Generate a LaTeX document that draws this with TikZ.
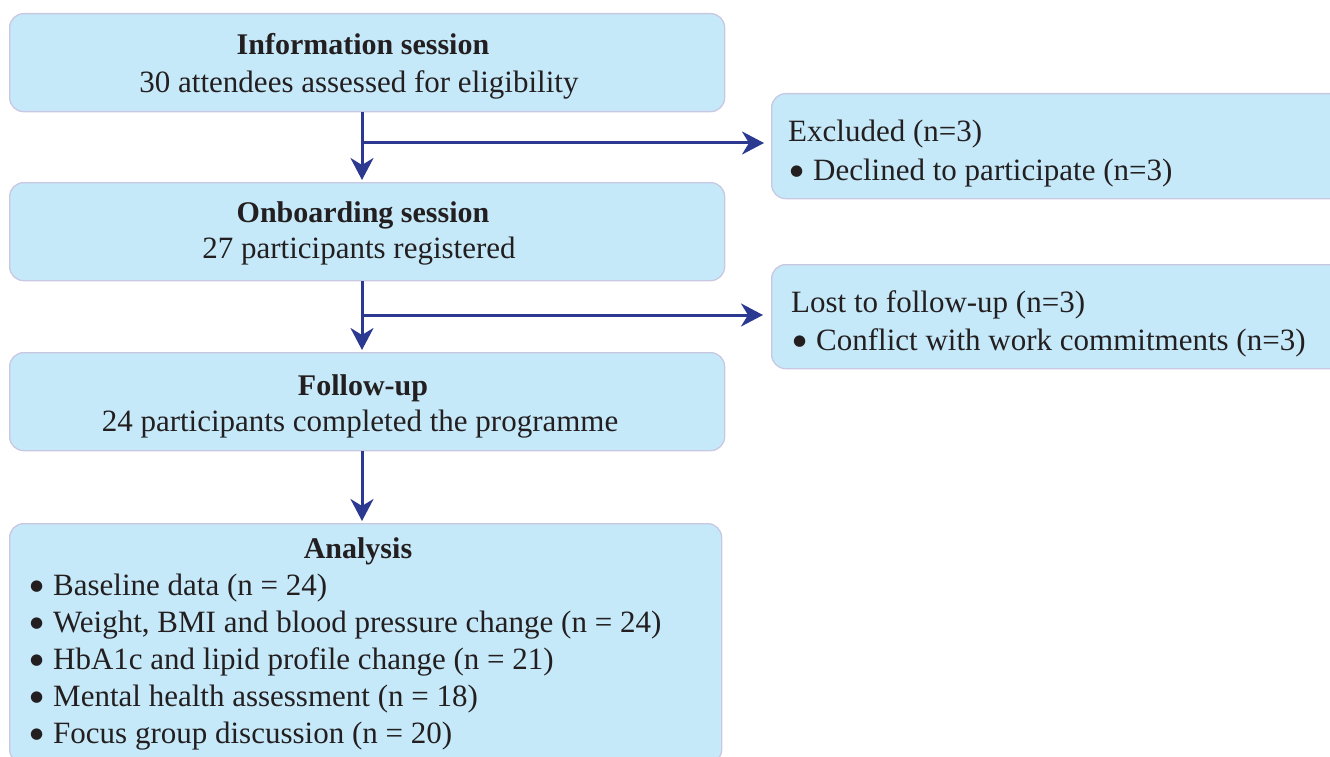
\documentclass[tikz,border=0pt]{standalone}
\usepackage{fontspec}
\setmainfont{Liberation Serif}
\newfontfamily\symfont{DejaVu Sans}
\usetikzlibrary{arrows.meta}
\definecolor{boxfill}{HTML}{C6E9F9}
\definecolor{boxline}{HTML}{C8C8E2}
\definecolor{arrowc}{HTML}{2B3990}
\definecolor{txt}{HTML}{231F20}
\tikzset{
  box/.style={draw=boxline, fill=boxfill, line width=1.3pt, rounded corners=14pt,
    anchor=north west, inner sep=0pt, shape=rectangle},
  flow/.style={draw=arrowc, line width=3pt,
    -{Stealth[length=22pt, width=23pt, inset=7pt]}},
  lbl/.style={text=txt, font=\fontsize{31}{37}\selectfont, inner sep=0pt, anchor=base},
  head/.style={lbl, font=\fontsize{30}{37}\selectfont\bfseries},
  lbll/.style={lbl, anchor=base west},
}
\newcommand{\bul}{\makebox[23pt][l]{\raisebox{5pt}{\fontsize{15}{15}\selectfont\symfont ●}}}
\begin{document}
\begin{tikzpicture}[x=1pt,y=-1pt]
\useasboundingbox (0,0) rectangle (1330,757);
\clip (0,0) rectangle (1330,757);

% main boxes
\node[box, minimum width=715pt, minimum height=98pt] (b1) at (9,13) {};
\node[box, minimum width=715pt, minimum height=98pt] (b2) at (9,182) {};
\node[box, minimum width=715pt, minimum height=98pt] (b3) at (9,352) {};
\node[box, minimum width=712pt, minimum height=240pt] (b4) at (9,523) {};
% side boxes
\node[box, minimum width=580pt, minimum height=105pt] (r1) at (771,93) {};
\node[box, minimum width=580pt, minimum height=104pt] (r2) at (771,264) {};

% texts
\node[head] (t1a) at (363,55) {Information session};
\node[lbl] (t1b) at (359,93) {30 attendees assessed for eligibility};
\node[head] (t2a) at (363,222) {Onboarding session};
\node[lbl] (t2b) at (359,258) {27 participants registered};
\node[head] (t3a) at (363,395) {Follow-up};
\node[lbl] (t3b) at (360,431) {24 participants completed the programme};
\node[head] (t4a) at (358,558) {Analysis};
\node[lbll] (t4b) at (30,595) {\bul Baseline data (n = 24)};
\node[lbll] (t4c) at (30,632) {\bul Weight, BMI and blood pressure change (n = 24)};
\node[lbll] (t4d) at (30,669) {\bul HbA1c and lipid profile change (n = 21)};
\node[lbll] (t4e) at (30,706) {\bul Mental health assessment (n = 18)};
\node[lbll] (t4f) at (30,743) {\bul Focus group discussion (n = 20)};

\node[lbll] (r1a) at (788,142) {Excluded (n=3)};
\node[lbll] (r1b) at (790,180) {\bul Declined to participate (n=3)};
\node[lbll] (r2a) at (791,312) {Lost to follow-up (n=3)};
\node[lbll] (r2b) at (793,350) {\bul Conflict with work commitments (n=3)};

% connectors
\coordinate (j1) at (362,143);
\coordinate (j2) at (362,315);
\draw[flow, shorten >=2pt] (b1.south -| j1) -- (b2.north -| j1);
\draw[flow, shorten >=7pt] (j1) -- (r1.west |- j1);
\draw[flow, shorten >=2pt] (b2.south -| j2) -- (b3.north -| j2);
\draw[flow, shorten >=8pt] (j2) -- (r2.west |- j2);
\draw[flow, shorten >=2pt] (b3.south -| j2) -- (b4.north -| j2);
\end{tikzpicture}
\end{document}
